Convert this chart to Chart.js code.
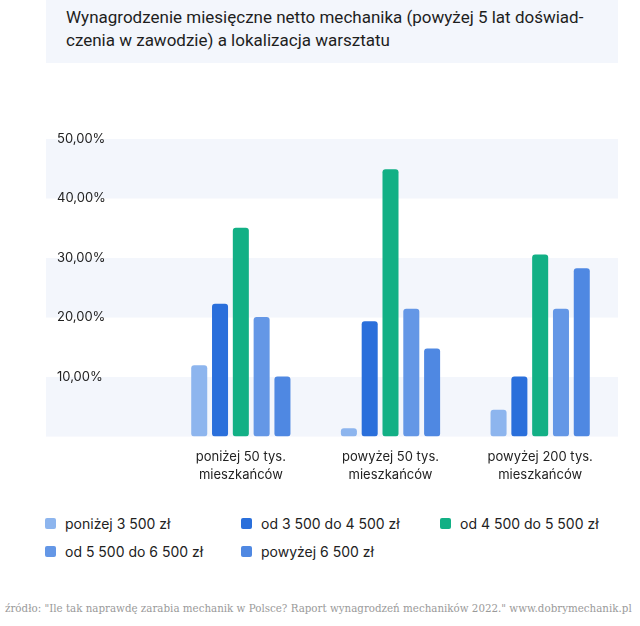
<!DOCTYPE html>
<html lang="pl">
<head>
<meta charset="utf-8">
<script src="https://cdn.jsdelivr.net/npm/chart.js@4/dist/chart.umd.min.js"></script>
<style>
    body { margin: 0; background: #fff; width: 640px; height: 626px; position: relative; overflow: hidden; font-family: Inter, "Noto Sans", sans-serif; }
    .title-box { position: absolute; left: 46px; top: 0; width: 572px; height: 63px; background: #f3f6fc; }
    .title-box h1 { margin: 0; padding: 6px 0 0 20px; font: 400 17px/23px Roboto, sans-serif; color: #1e1e1e; }
    .chart-wrap { position: absolute; left: 0; top: 120px; width: 640px; height: 380px; }
    .legend { position: absolute; left: 45px; top: 512px; display: grid; grid-template-columns: 196px 199px 196px; row-gap: 6px; }
    .legend-item { display: flex; align-items: center; height: 22px; font-size: 14px; color: #222; }
    .legend-item span.box { width: 11px; height: 11px; border-radius: 2px; margin-right: 9px; }
    .source { position: absolute; left: 5px; top: 602px; font: 10.3px "DejaVu Serif", serif; color: #9a9a9a; white-space: nowrap; }
</style>
</head>
<body>
<div class="title-box"><h1>Wynagrodzenie miesięczne netto mechanika (powyżej 5 lat doświad-<br>czenia w zawodzie) a lokalizacja warsztatu</h1></div>
<div class="chart-wrap"><canvas id="salaryChart"></canvas></div>
<div class="legend" id="legend"></div>
<div class="source">źródło: "Ile tak naprawdę zarabia mechanik w Polsce? Raport wynagrodzeń mechaników 2022." www.dobrymechanik.pl</div>

<script>
const categories = [
    ['poniżej 50 tys.', 'mieszkańców'],
    ['powyżej 50 tys.', 'mieszkańców'],
    ['powyżej 200 tys.', 'mieszkańców']
];
const seriesNames = ['poniżej 3 500 zł', 'od 3 500 do 4 500 zł', 'od 4 500 do 5 500 zł', 'od 5 500 do 6 500 zł', 'powyżej 6 500 zł'];
const below3500 = [12.0, 1.4, 4.5];
const from3500to4500 = [22.3, 19.4, 10.1];
const from4500to5500 = [35.1, 44.9, 30.6];
const from5500to6500 = [20.1, 21.5, 21.5];
const above6500 = [10.1, 14.8, 28.3];
const seriesColors = ['#8db5ee', '#2a6fdb', '#12b085', '#6497e6', '#4f88e2'];

const seriesValues = [below3500, from3500to4500, from4500to5500, from5500to6500, above6500];

// alternating light bands behind the chart
const bandsPlugin = {
    id: 'bands',
    beforeDraw(chart) {
        const { ctx, chartArea, scales } = chart;
        const y = scales.y;
        const ticks = y.ticks.map(t => t.value).sort((a, b) => b - a);
        ctx.save();
        ctx.fillStyle = '#f3f6fc';
        for (let i = 0; i < ticks.length - 1; i += 2) {
            const top = y.getPixelForValue(ticks[i]);
            const bottom = y.getPixelForValue(ticks[i + 1]);
            ctx.fillRect(46, top, chartArea.right + 3 - 46, bottom - top);
        }
        ctx.restore();
    }
};

const ctx = document.getElementById('salaryChart');
new Chart(ctx, {
    type: 'bar',
    data: {
        labels: categories,
        datasets: seriesNames.map((name, i) => ({
            label: name,
            data: seriesValues[i],
            backgroundColor: seriesColors[i],
            borderRadius: 3,
            borderSkipped: false,
            categoryPercentage: 0.695,
            barPercentage: 0.77
        }))
    },
    options: {
        responsive: true,
        maintainAspectRatio: false,
        animation: false,
        layout: {
            padding: { left: 57, right: 25, top: 19, bottom: 5 }
        },
        plugins: {
            legend: { display: false },
            tooltip: { enabled: false }
        },
        scales: {
            x: {
                grid: { display: false, drawTicks: false },
                border: { display: false },
                ticks: {
                    padding: 11,
                    color: '#222',
                    font: { family: 'Inter', size: 13, lineHeight: 1.4 }
                }
            },
            y: {
                min: 0,
                max: 50,
                grid: { display: false, drawTicks: false },
                border: { display: false },
                afterFit: (axis) => { axis.width = 109; },
                ticks: {
                    stepSize: 10,
                    crossAlign: 'far',
                    color: '#222',
                    font: { family: 'Inter', size: 13 },
                    callback: (v) => v === 0 ? '' : v.toFixed(2).replace('.', ',') + '%'
                }
            }
        }
    },
    plugins: [bandsPlugin]
});

const legend = document.getElementById('legend');
seriesNames.forEach((name, i) => {
    const item = document.createElement('div');
    item.className = 'legend-item';
    const box = document.createElement('span');
    box.className = 'box';
    box.style.background = seriesColors[i];
    item.appendChild(box);
    item.appendChild(document.createTextNode(name));
    legend.appendChild(item);
});
</script>
</body>
</html>
